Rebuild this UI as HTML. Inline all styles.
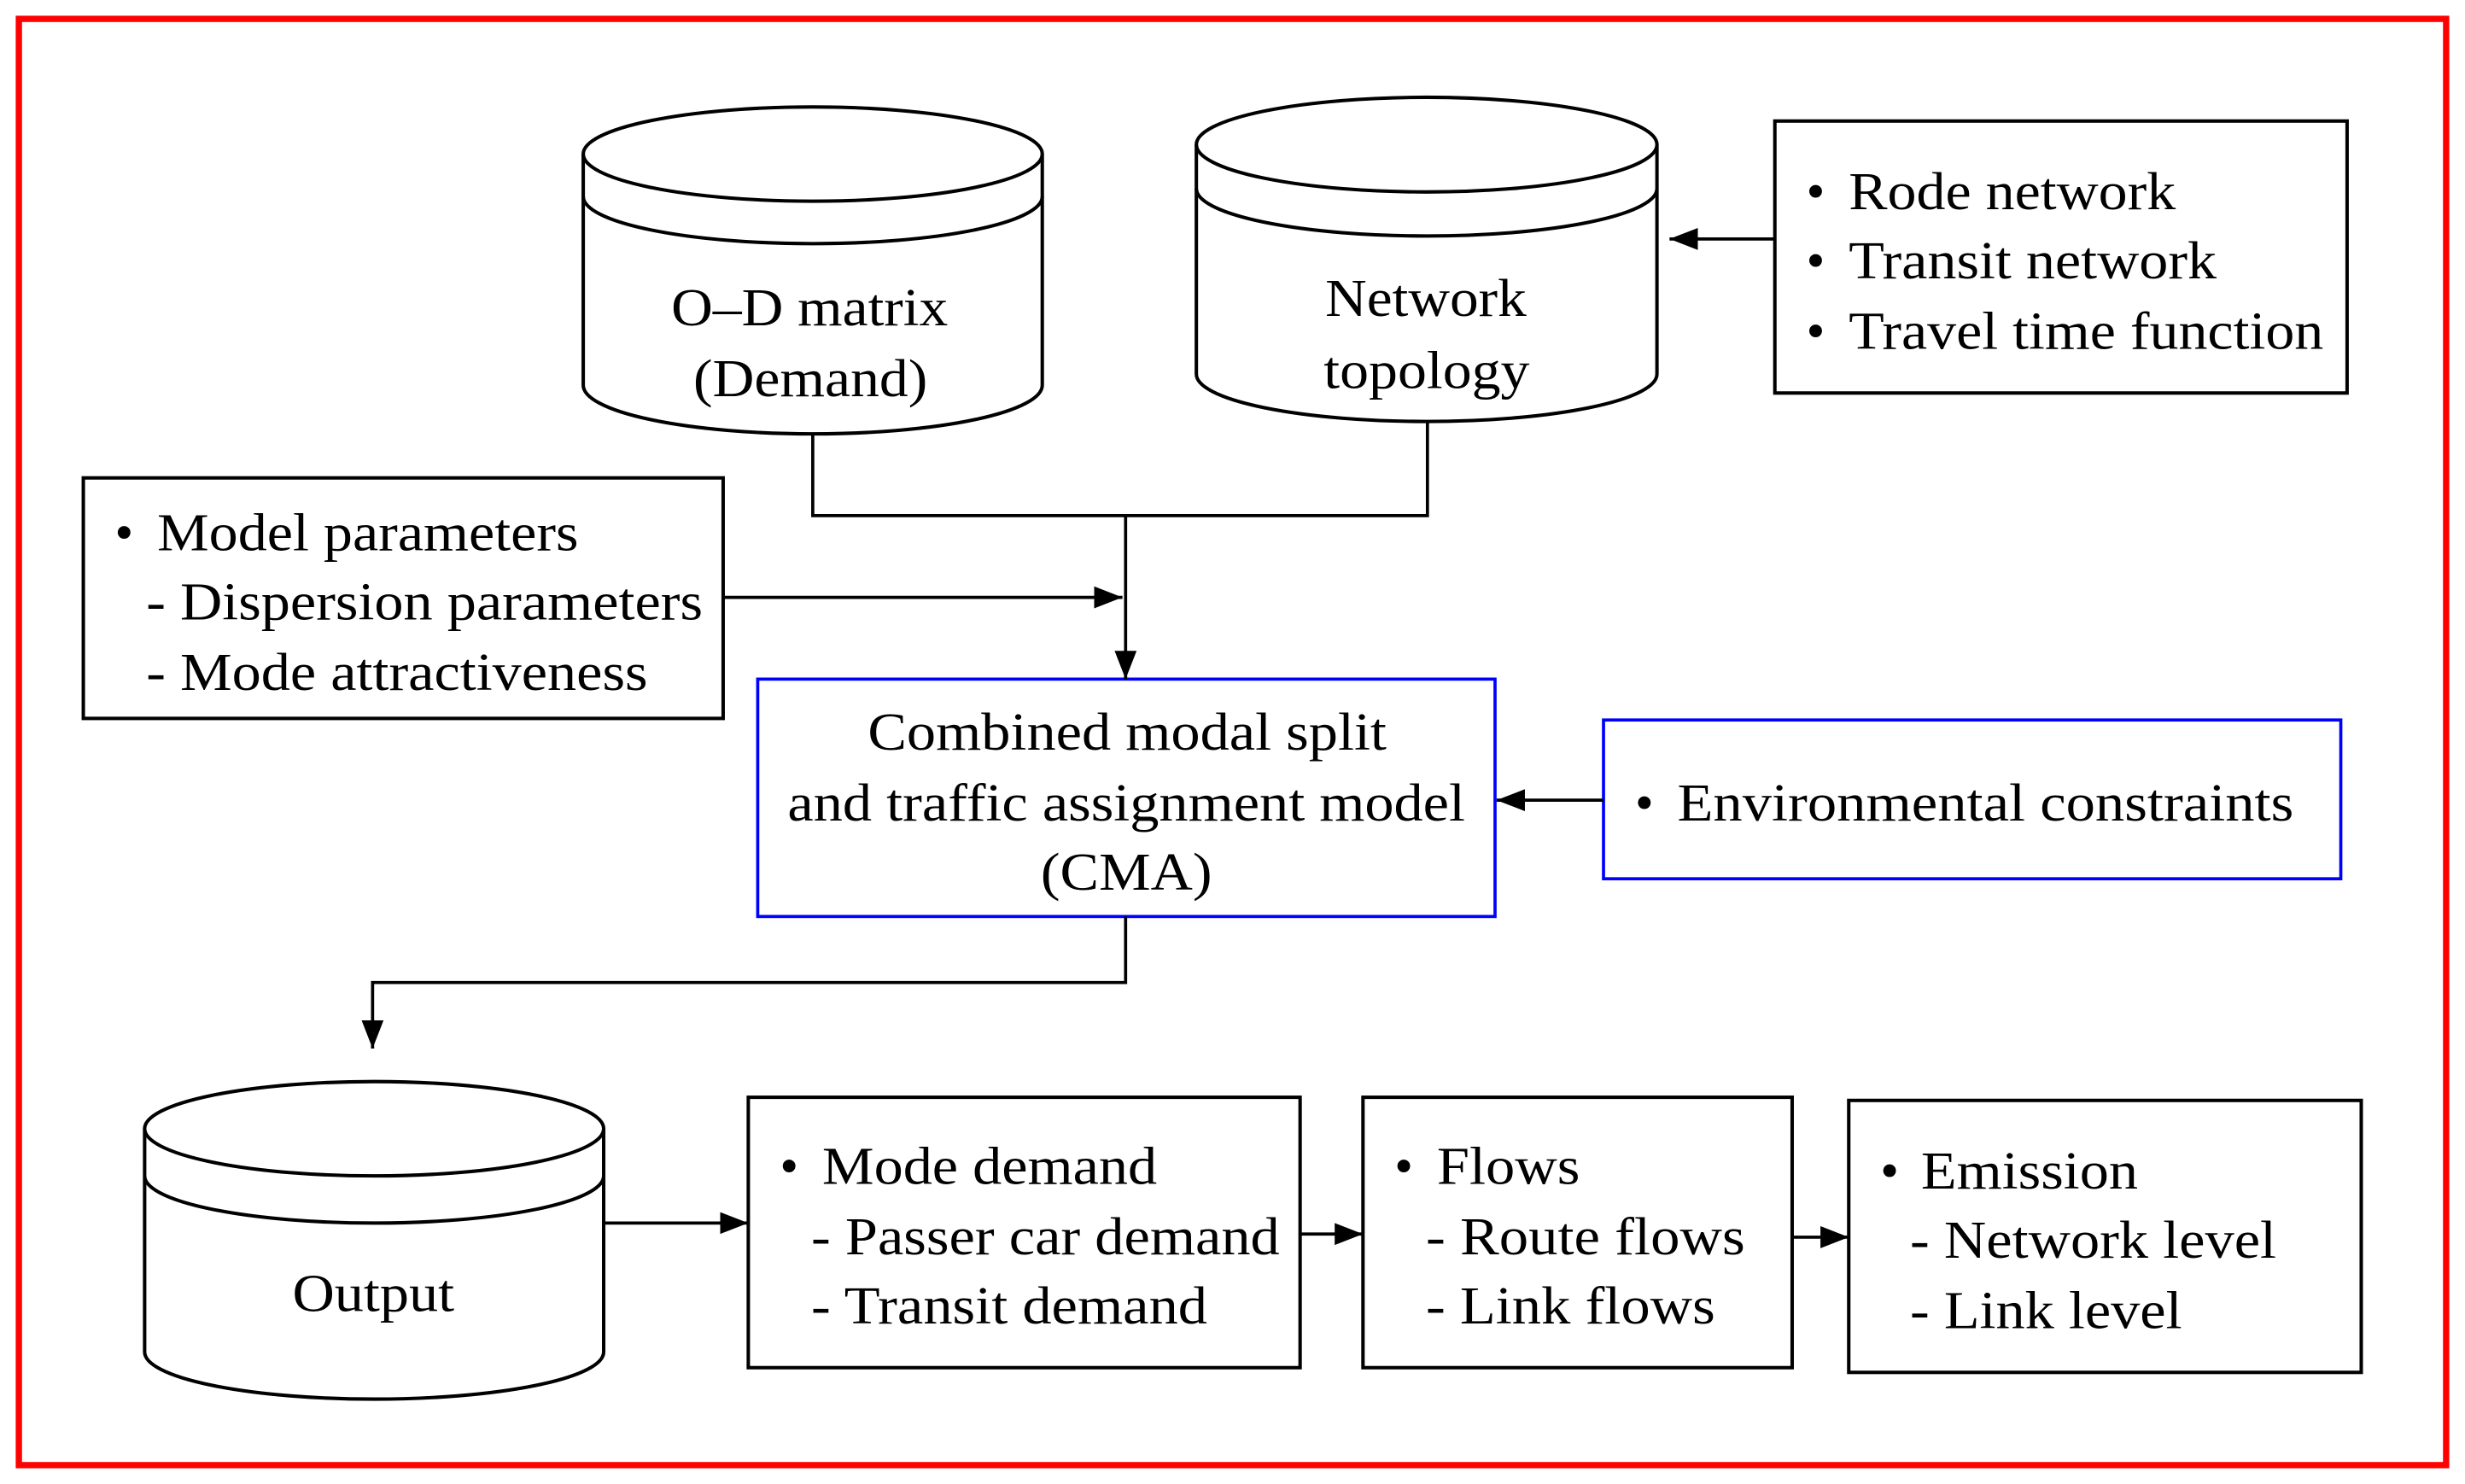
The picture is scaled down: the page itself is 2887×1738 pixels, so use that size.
<!DOCTYPE html>
<html><head><meta charset="utf-8"><style>html,body{margin:0;padding:0;background:#fff}svg{display:block}text{font-family:"Liberation Serif",serif;font-size:34px;fill:#000}</style></head>
<body>
<svg width="2887" height="1738" viewBox="0 0 1568 944" preserveAspectRatio="none" xmlns="http://www.w3.org/2000/svg">
<defs>
<marker id="b" markerWidth="18" markerHeight="18" refX="18" refY="9" orient="auto" markerUnits="userSpaceOnUse" viewBox="0 0 18 18"><path d="M0,2 L18,9 L0,16 z" fill="#000"/></marker></defs>
<rect x="12" y="12" width="1544" height="920" fill="none" stroke="#f00" stroke-width="4"/>
<g fill="none" stroke="#000" stroke-width="2.2">
<path d="M371,98 A146,30 0 0 1 663,98 A146,30 0 0 1 371,98 Z"/>
<path d="M371,98 V245 A146,31 0 0 0 663,245 V98"/>
<path d="M371,125 A146,30 0 0 0 663,125"/>
<path d="M761,92 A146,30 0 0 1 1054,92 A146,30 0 0 1 761,92 Z"/>
<path d="M761,92 V238 A146,30 0 0 0 1054,238 V92"/>
<path d="M761,120 A146,30 0 0 0 1054,120"/>
<path d="M92,718 A146,30 0 0 1 384,718 A146,30 0 0 1 92,718 Z"/>
<path d="M92,718 V860 A146,30 0 0 0 384,860 V718"/>
<path d="M92,748 A146,30 0 0 0 384,748"/>
<rect x="1129" y="77" width="364" height="173"/>
<rect x="53" y="304" width="407" height="153"/>
<rect x="476" y="698" width="351" height="172"/>
<rect x="867" y="698" width="273" height="172"/>
<rect x="1176" y="700" width="326" height="173"/>
</g>
<g fill="none" stroke="#00f" stroke-width="2">
<rect x="482" y="432" width="469" height="151"/>
<rect x="1020" y="458" width="469" height="101"/>
</g>
<g fill="none" stroke="#000" stroke-width="2">
<path d="M517,276 V328 H908 V268"/>
<path d="M716,328 V432" marker-end="url(#b)"/>
<path d="M1129,152 H1062" marker-end="url(#b)"/>
<path d="M460,380 H714" marker-end="url(#b)"/>
<path d="M1020,509 H952" marker-end="url(#b)"/>
<path d="M716,583 V625 H237 V667" marker-end="url(#b)"/>
<path d="M384,778 H476" marker-end="url(#b)"/>
<path d="M827,785 H867" marker-end="url(#b)"/>
<path d="M1140,787 H1176" marker-end="url(#b)"/>
</g>
<g lengthAdjust="spacingAndGlyphs">
<text x="427" y="207" textLength="176" lengthAdjust="spacingAndGlyphs">O–D matrix</text>
<text x="441" y="252" textLength="149" lengthAdjust="spacingAndGlyphs">(Demand)</text>
<text x="843" y="201" textLength="128" lengthAdjust="spacingAndGlyphs">Network</text>
<text x="842" y="247" textLength="131" lengthAdjust="spacingAndGlyphs">topology</text>
<text x="552" y="477" textLength="330" lengthAdjust="spacingAndGlyphs">Combined modal split</text>
<text x="501" y="522" textLength="431" lengthAdjust="spacingAndGlyphs">and traffic assignment model</text>
<text x="662" y="566" textLength="109" lengthAdjust="spacingAndGlyphs">(CMA)</text>
<text x="186" y="834" textLength="103" lengthAdjust="spacingAndGlyphs">Output</text>
<text x="1149" y="133">•</text><text x="1176" y="133" textLength="208" lengthAdjust="spacingAndGlyphs">Rode network</text>
<text x="1149" y="177">•</text><text x="1176" y="177" textLength="234" lengthAdjust="spacingAndGlyphs">Transit network</text>
<text x="1149" y="222">•</text><text x="1176" y="222" textLength="302" lengthAdjust="spacingAndGlyphs">Travel time function</text>
<text x="73" y="350">•</text><text x="100" y="350" textLength="268" lengthAdjust="spacingAndGlyphs">Model parameters</text>
<text x="93" y="394" textLength="354" lengthAdjust="spacingAndGlyphs">- Dispersion parameters</text>
<text x="93" y="439" textLength="319" lengthAdjust="spacingAndGlyphs">- Mode attractiveness</text>
<text x="1040" y="522">•</text><text x="1067" y="522" textLength="392" lengthAdjust="spacingAndGlyphs">Environmental constraints</text>
<text x="496" y="753">•</text><text x="523" y="753" textLength="213" lengthAdjust="spacingAndGlyphs">Mode demand</text>
<text x="516" y="798" textLength="298" lengthAdjust="spacingAndGlyphs">- Passer car demand</text>
<text x="516" y="842" textLength="252" lengthAdjust="spacingAndGlyphs">- Transit demand</text>
<text x="887" y="753">•</text><text x="914" y="753" textLength="91" lengthAdjust="spacingAndGlyphs">Flows</text>
<text x="907" y="798" textLength="203" lengthAdjust="spacingAndGlyphs">- Route flows</text>
<text x="907" y="842" textLength="184" lengthAdjust="spacingAndGlyphs">- Link flows</text>
<text x="1196" y="756">•</text><text x="1222" y="756" textLength="138" lengthAdjust="spacingAndGlyphs">Emission</text>
<text x="1215" y="800" textLength="233" lengthAdjust="spacingAndGlyphs">- Network level</text>
<text x="1215" y="845" textLength="173" lengthAdjust="spacingAndGlyphs">- Link level</text>
</g>
</svg>
</body></html>
